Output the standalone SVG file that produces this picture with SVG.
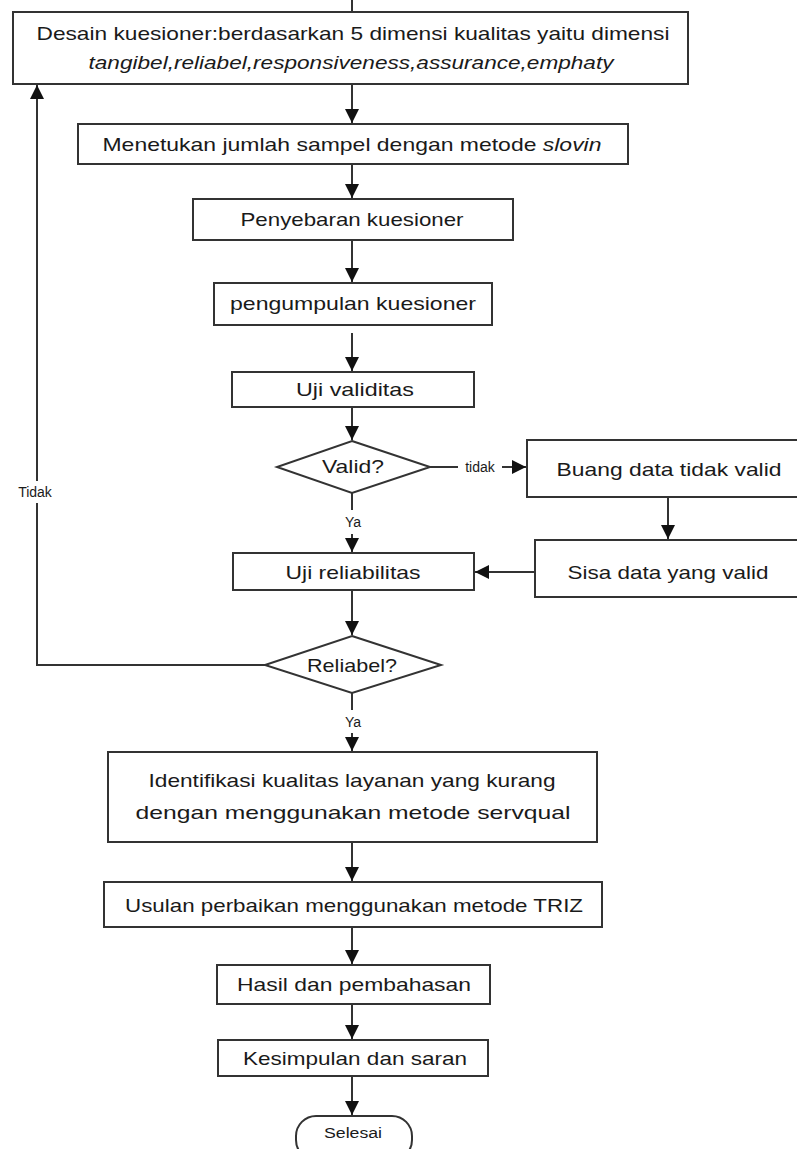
<svg xmlns="http://www.w3.org/2000/svg" width="797" height="1149" viewBox="0 0 797 1149">
<style>
.box{fill:#fff;stroke:#333;stroke-width:2}
.ln{fill:none;stroke:#333;stroke-width:2}
.t{font-family:"Liberation Sans",Arial,sans-serif;font-size:19px;fill:#1a1a1a;text-anchor:middle}
.it{font-style:italic}
.s{font-family:"Liberation Sans",Arial,sans-serif;font-size:14px;fill:#1a1a1a;text-anchor:middle}
</style>
<defs>
<marker id="ah" viewBox="0 0 10 10" refX="10" refY="5" markerWidth="15" markerHeight="14" markerUnits="userSpaceOnUse" orient="auto">
<path d="M0,0 L10,5 L0,10 z" fill="#111"/>
</marker>
</defs>
<g id="connectors">
<line class="ln" x1="352" y1="0" x2="352" y2="11"/>
<line class="ln" x1="352" y1="84" x2="352" y2="123" marker-end="url(#ah)"/>
<line class="ln" x1="352" y1="164" x2="352" y2="198" marker-end="url(#ah)"/>
<line class="ln" x1="352" y1="240" x2="352" y2="282" marker-end="url(#ah)"/>
<line class="ln" x1="352" y1="333" x2="352" y2="371" marker-end="url(#ah)"/>
<line class="ln" x1="352" y1="407" x2="352" y2="440" marker-end="url(#ah)"/>
<line class="ln" x1="430" y1="467" x2="458" y2="467"/>
<line class="ln" x1="502" y1="467" x2="526" y2="467" marker-end="url(#ah)"/>
<line class="ln" x1="352" y1="493" x2="352" y2="510"/>
<line class="ln" x1="352" y1="534" x2="352" y2="552" marker-end="url(#ah)"/>
<line class="ln" x1="668" y1="497" x2="668" y2="539" marker-end="url(#ah)"/>
<line class="ln" x1="535" y1="572" x2="475" y2="572" marker-end="url(#ah)"/>
<line class="ln" x1="352" y1="590" x2="352" y2="635" marker-end="url(#ah)"/>
<polyline class="ln" points="265,665 37,665 37,503"/>
<line class="ln" x1="37" y1="481" x2="37" y2="85" marker-end="url(#ah)"/>
<line class="ln" x1="352" y1="693" x2="352" y2="710"/>
<line class="ln" x1="352" y1="733" x2="352" y2="751" marker-end="url(#ah)"/>
<line class="ln" x1="352" y1="842" x2="352" y2="881" marker-end="url(#ah)"/>
<line class="ln" x1="352" y1="927" x2="352" y2="964" marker-end="url(#ah)"/>
<line class="ln" x1="352" y1="1004" x2="352" y2="1039" marker-end="url(#ah)"/>
<line class="ln" x1="352" y1="1076" x2="352" y2="1115" marker-end="url(#ah)"/>
<text class="s" x="480" y="472">tidak</text>
<text class="s" x="353" y="527">Ya</text>
<text class="s" x="35" y="497">Tidak</text>
<text class="s" x="353" y="727">Ya</text>
</g>
<g id="n-desain">
<rect class="box" x="13" y="12" width="675" height="72"/>
<text class="t" x="353" y="40" textLength="633" lengthAdjust="spacingAndGlyphs">Desain kuesioner:berdasarkan 5 dimensi kualitas yaitu dimensi</text>
<text class="t it" x="351" y="69" textLength="525" lengthAdjust="spacingAndGlyphs">tangibel,reliabel,responsiveness,assurance,emphaty</text>
</g>
<g id="n-sampel">
<rect class="box" x="78" y="124" width="550" height="40"/>
<text class="t" x="352" y="151" textLength="499" lengthAdjust="spacingAndGlyphs">Menetukan jumlah sampel dengan metode <tspan class="it">slovin</tspan></text>
</g>
<g id="n-penyebaran">
<rect class="box" x="193" y="199" width="320" height="41"/>
<text class="t" x="352" y="226" textLength="223" lengthAdjust="spacingAndGlyphs">Penyebaran kuesioner</text>
</g>
<g id="n-pengumpulan">
<rect class="box" x="214" y="283" width="278" height="42"/>
<text class="t" x="353" y="310" textLength="246" lengthAdjust="spacingAndGlyphs">pengumpulan kuesioner</text>
</g>
<g id="n-validitas">
<rect class="box" x="232" y="372" width="242" height="35"/>
<text class="t" x="355" y="396" textLength="118" lengthAdjust="spacingAndGlyphs">Uji validitas</text>
</g>
<g id="n-valid">
<polygon class="box" points="352,441 430,467 352,493 277,467"/>
<text class="t" x="353" y="473" textLength="62" lengthAdjust="spacingAndGlyphs">Valid?</text>
</g>
<g id="n-buang">
<rect class="box" x="527" y="440" width="272" height="57"/>
<text class="t" x="669" y="476" textLength="225" lengthAdjust="spacingAndGlyphs">Buang data tidak valid</text>
</g>
<g id="n-sisa">
<rect class="box" x="535" y="540" width="264" height="57"/>
<text class="t" x="668" y="579" textLength="201" lengthAdjust="spacingAndGlyphs">Sisa data yang valid</text>
</g>
<g id="n-reliabilitas">
<rect class="box" x="233" y="553" width="241" height="37"/>
<text class="t" x="353" y="579" textLength="135" lengthAdjust="spacingAndGlyphs">Uji reliabilitas</text>
</g>
<g id="n-reliabel">
<polygon class="box" points="352,636 441,665 352,693 265,665"/>
<text class="t" x="352" y="672" textLength="90" lengthAdjust="spacingAndGlyphs">Reliabel?</text>
</g>
<g id="n-identifikasi">
<rect class="box" x="108" y="752" width="489" height="90"/>
<text class="t" x="352" y="787" textLength="407" lengthAdjust="spacingAndGlyphs">Identifikasi kualitas layanan yang kurang</text>
<text class="t" x="353" y="819" textLength="435" lengthAdjust="spacingAndGlyphs">dengan menggunakan metode servqual</text>
</g>
<g id="n-usulan">
<rect class="box" x="104" y="882" width="498" height="45"/>
<text class="t" x="354" y="912" textLength="458" lengthAdjust="spacingAndGlyphs">Usulan perbaikan menggunakan metode TRIZ</text>
</g>
<g id="n-hasil">
<rect class="box" x="217" y="965" width="273" height="39"/>
<text class="t" x="354" y="991" textLength="234" lengthAdjust="spacingAndGlyphs">Hasil dan pembahasan</text>
</g>
<g id="n-kesimpulan">
<rect class="box" x="218" y="1040" width="270" height="36"/>
<text class="t" x="355" y="1065" textLength="224" lengthAdjust="spacingAndGlyphs">Kesimpulan dan saran</text>
</g>
<g id="n-selesai">
<rect class="box" x="296" y="1116" width="116" height="44" rx="20"/>
<text class="s" x="353" y="1138" textLength="58" lengthAdjust="spacingAndGlyphs">Selesai</text>
</g>
</svg>
